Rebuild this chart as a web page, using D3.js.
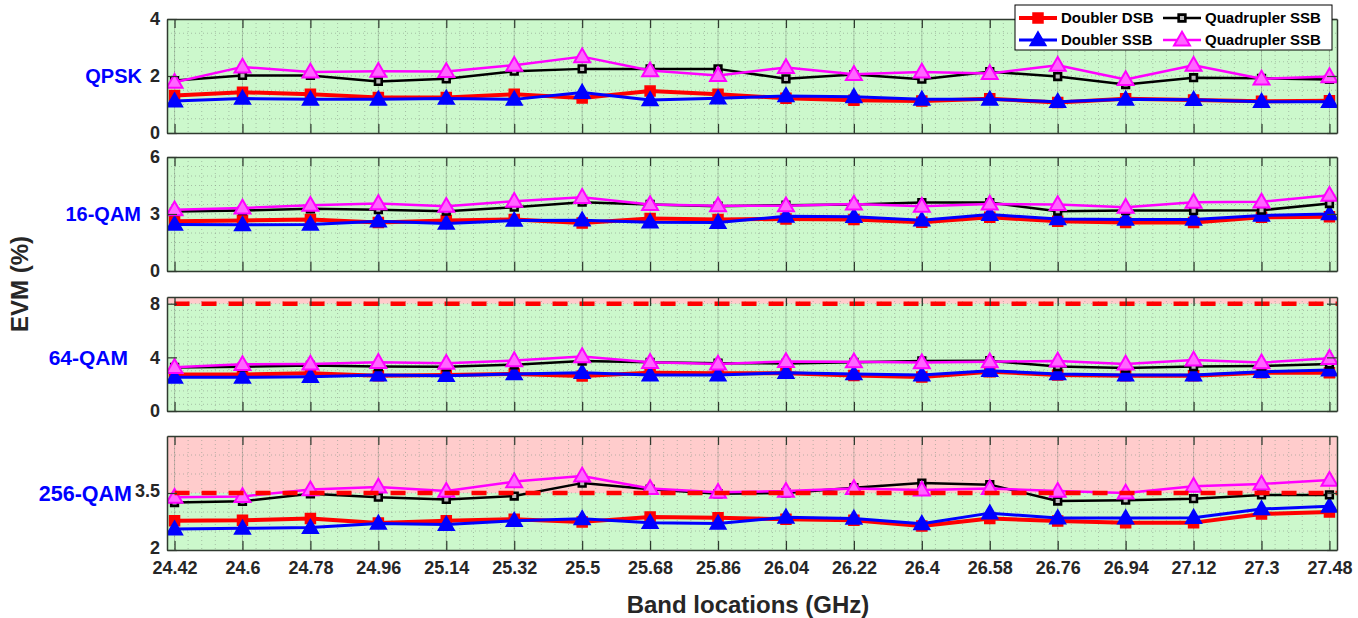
<!DOCTYPE html>
<html>
<head>
<meta charset="utf-8">
<script src="https://cdn.jsdelivr.net/npm/d3@7"></script>
<style>
  body { margin: 0; background: #fff; }
  text { font-family: "Liberation Sans", Arial, sans-serif; font-weight: bold; }
</style>
</head>
<body>
<svg id="chart" width="1358" height="618"></svg>
<script>
// band locations (GHz)
const freqs = [24.42, 24.6, 24.78, 24.96, 25.14, 25.32, 25.5, 25.68, 25.86,
               26.04, 26.22, 26.4, 26.58, 26.76, 26.94, 27.12, 27.3, 27.48];

const formats = ['QPSK', '16-QAM', '64-QAM', '256-QAM'];
const seriesNames = ['Doubler DSB', 'Doubler SSB', 'Quadrupler SSB', 'Quadrupler SSB'];
const yDomains = [[0, 4], [0, 6], [0, 8.5], [2, 5]];
const yTicks = [[0, 2, 4], [0, 3, 6], [0, 4, 8], [2, 3.5]];
const thresholds = [null, null, 8, 3.5];

// EVM (%) per format: [doubler DSB, doubler SSB, quad SSB (black), quad SSB (magenta)]
const qpsk = [
  [1.32, 1.43, 1.36, 1.25, 1.25, 1.36, 1.23, 1.47, 1.36, 1.22, 1.15, 1.12, 1.2, 1.07, 1.2, 1.16, 1.11, 1.13],
  [1.12, 1.21, 1.18, 1.18, 1.21, 1.18, 1.42, 1.16, 1.22, 1.3, 1.27, 1.18, 1.18, 1.1, 1.18, 1.17, 1.1, 1.1],
  [1.84, 2.02, 2.02, 1.81, 1.9, 2.17, 2.25, 2.25, 2.25, 1.9, 2.05, 1.89, 2.15, 1.98, 1.7, 1.94, 1.92, 1.88],
  [1.78, 2.32, 2.14, 2.17, 2.16, 2.38, 2.68, 2.19, 2.02, 2.3, 2.06, 2.14, 2.09, 2.38, 1.88, 2.38, 1.9, 1.98]
];
const qam16 = [
  [2.62, 2.66, 2.71, 2.55, 2.66, 2.71, 2.52, 2.76, 2.71, 2.74, 2.71, 2.57, 2.83, 2.62, 2.55, 2.55, 2.83, 2.85],
  [2.45, 2.43, 2.45, 2.62, 2.5, 2.66, 2.67, 2.57, 2.55, 2.88, 2.86, 2.67, 2.97, 2.74, 2.71, 2.71, 2.92, 3.0],
  [3.13, 3.18, 3.27, 3.23, 3.15, 3.36, 3.62, 3.5, 3.41, 3.46, 3.5, 3.6, 3.6, 3.15, 3.18, 3.18, 3.2, 3.55],
  [3.23, 3.32, 3.46, 3.55, 3.41, 3.67, 3.88, 3.5, 3.44, 3.44, 3.53, 3.41, 3.53, 3.5, 3.36, 3.62, 3.64, 3.99]
];
const qam64 = [
  [2.73, 2.73, 2.81, 2.63, 2.68, 2.76, 2.61, 2.86, 2.81, 2.81, 2.65, 2.53, 2.93, 2.68, 2.63, 2.63, 2.86, 2.86],
  [2.51, 2.51, 2.56, 2.68, 2.63, 2.76, 2.86, 2.68, 2.68, 2.86, 2.76, 2.68, 3.0, 2.76, 2.68, 2.68, 2.93, 3.05],
  [3.25, 3.3, 3.4, 3.32, 3.3, 3.45, 3.73, 3.63, 3.56, 3.55, 3.63, 3.73, 3.75, 3.31, 3.2, 3.31, 3.36, 3.5],
  [3.26, 3.48, 3.51, 3.63, 3.56, 3.76, 4.06, 3.63, 3.51, 3.7, 3.68, 3.61, 3.68, 3.73, 3.51, 3.81, 3.61, 3.93]
];
const qam256 = [
  [2.77, 2.78, 2.83, 2.71, 2.77, 2.81, 2.74, 2.87, 2.85, 2.81, 2.78, 2.63, 2.83, 2.76, 2.72, 2.72, 2.95, 3.0],
  [2.55, 2.57, 2.59, 2.7, 2.67, 2.77, 2.82, 2.72, 2.7, 2.86, 2.83, 2.69, 2.97, 2.84, 2.84, 2.85, 3.08, 3.15],
  [3.25, 3.28, 3.48, 3.39, 3.33, 3.42, 3.76, 3.6, 3.48, 3.5, 3.64, 3.76, 3.72, 3.29, 3.31, 3.35, 3.45, 3.45],
  [3.39, 3.41, 3.59, 3.66, 3.55, 3.8, 3.95, 3.62, 3.52, 3.55, 3.62, 3.58, 3.62, 3.55, 3.5, 3.68, 3.74, 3.84]
];
const panelData = [qpsk, qam16, qam64, qam256];

const styles = [
  { color: '#ff0000', width: 4, marker: 'square', size: 100, fill: '#ff0000', sw: 1.5 },
  { color: '#0000ff', width: 3, marker: 'triangle', size: 110, fill: '#0000ff', sw: 1.5 },
  { color: '#000000', width: 2.5, marker: 'square', size: 45, fill: '#bbbbbb', sw: 2.6 },
  { color: '#ff00ff', width: 2.5, marker: 'triangle', size: 110, fill: '#ff66ff', sw: 2 }
];

const svg = d3.select('#chart');
const left = 167, right = 1337;
const panelTops = [19, 157, 297, 436];
const panelH = 114;

const x = d3.scaleLinear().domain([24.4, 27.5]).range([left, right]);
const fmt = (d) => String(d);

function symbolFor(st) {
  return d3.symbol()
    .type(st.marker == 'square' ? d3.symbolSquare : d3.symbolTriangle)
    .size(st.size);
}

panelData.forEach((series, p) => {
  const top = panelTops[p];
  const bottom = top + panelH;
  const [y0, y1] = yDomains[p];
  const y = d3.scaleLinear().domain([y0, y1]).range([bottom, top]);
  const g = svg.append('g').attr('class', 'panel');

  const clipId = 'clip' + p;
  svg.append('clipPath').attr('id', clipId)
    .append('rect').attr('x', left).attr('y', top)
    .attr('width', right - left).attr('height', panelH);

  // background: green below threshold, pink above
  const th = thresholds[p];
  g.append('rect')
    .attr('x', left).attr('y', top)
    .attr('width', right - left).attr('height', panelH)
    .attr('fill', '#ccf8cc');
  if (th != null) {
    g.append('rect')
      .attr('x', left).attr('y', top)
      .attr('width', right - left).attr('height', y(th) - top)
      .attr('fill', '#ffcccc');
  }

  // minor grid
  const minorX = d3.range(24.42, 27.5, 0.036);
  g.append('g').selectAll('line').data(minorX).enter().append('line')
    .attr('x1', (d) => x(d)).attr('x2', (d) => x(d))
    .attr('y1', top).attr('y2', bottom)
    .attr('stroke', '#8a9a8a').attr('stroke-width', 1)
    .attr('stroke-dasharray', '1,3').attr('opacity', 0.6);
  const minorY = d3.range(y0 + 0.5, y1, 0.5);
  g.append('g').selectAll('line').data(minorY).enter().append('line')
    .attr('x1', left).attr('x2', right)
    .attr('y1', (d) => y(d)).attr('y2', (d) => y(d))
    .attr('stroke', '#8a9a8a').attr('stroke-width', 1)
    .attr('stroke-dasharray', '1,3').attr('opacity', 0.6);

  // major grid
  g.append('g').selectAll('line').data(freqs).enter().append('line')
    .attr('x1', (d) => x(d)).attr('x2', (d) => x(d))
    .attr('y1', top).attr('y2', bottom)
    .attr('stroke', '#6a7a6a').attr('stroke-width', 1).attr('opacity', 0.35);

  // series
  const plot = g.append('g').attr('clip-path', `url(#${clipId})`);
  series.forEach((vals, s) => {
    const st = styles[s];
    const line = d3.line().x((d, i) => x(freqs[i])).y((d) => y(d));
    plot.append('path')
      .datum(vals)
      .attr('d', line)
      .attr('fill', 'none')
      .attr('stroke', st.color)
      .attr('stroke-width', st.width)
      .attr('stroke-linejoin', 'round');
    plot.append('g').selectAll('path').data(vals).enter().append('path')
      .attr('transform', (d, i) => `translate(${x(freqs[i])},${y(d) + (st.marker == 'triangle' ? 1 : 0)})`)
      .attr('d', symbolFor(st))
      .attr('fill', st.fill)
      .attr('stroke', st.color)
      .attr('stroke-width', st.sw);
  });

  // threshold
  if (th != null) {
    g.append('line')
      .attr('x1', x(24.42)).attr('x2', right)
      .attr('y1', y(th)).attr('y2', y(th))
      .attr('stroke', '#ff0000').attr('stroke-width', 4.5)
      .attr('stroke-dasharray', '15,12');
  }

  // axes
  const axisColor = '#2f3a2f';
  const yl = g.append('g').attr('transform', `translate(${left},0)`)
    .call(d3.axisLeft(y).tickValues(yTicks[p]).tickSizeInner(-10).tickSizeOuter(0)
      .tickPadding(7).tickFormat(fmt));
  const yr = g.append('g').attr('transform', `translate(${right},0)`)
    .call(d3.axisRight(y).tickValues(yTicks[p]).tickSizeInner(-10).tickSizeOuter(0).tickFormat(''));
  const xt = g.append('g').attr('transform', `translate(0,${top})`)
    .call(d3.axisTop(x).tickValues(freqs).tickSizeInner(-9).tickSizeOuter(0).tickFormat(''));
  const xb = g.append('g').attr('transform', `translate(0,${bottom})`)
    .call(d3.axisBottom(x).tickValues(freqs).tickSizeInner(-9).tickSizeOuter(0)
      .tickPadding(p == 3 ? 11 : 0)
      .tickFormat(p == 3 ? fmt : ''));
  [yl, yr, xt, xb].forEach((a) => {
    a.select('.domain').attr('stroke', axisColor).attr('stroke-width', 1.5);
    a.selectAll('.tick line').attr('stroke', axisColor).attr('stroke-width', 1.2);
    a.selectAll('.tick text')
      .attr('fill', '#262626')
      .style('font-size', '18px')
      .style('font-weight', 'bold')
      .style('font-family', '"Liberation Sans", Arial, sans-serif');
  });
  if (p == 3) yl.selectAll('.tick text').attr('dy', '0.2em');

  // format label
  const labelRight = [142, 141, 128, 132];
  const labelSize = [20, 20, 21, 21.5];
  const labelVal = [2, 3, 4, 3.5];
  g.append('text')
    .attr('x', labelRight[p])
    .attr('y', y(labelVal[p]))
    .attr('dy', '0.35em')
    .attr('text-anchor', 'end')
    .attr('fill', '#0000ff')
    .style('font-size', labelSize[p] + 'px')
    .text(formats[p]);
});

// axis titles
svg.append('text')
  .attr('transform', 'translate(28,284) rotate(-90)')
  .attr('text-anchor', 'middle')
  .attr('fill', '#262626')
  .style('font-size', '24px')
  .text('EVM (%)');

svg.append('text')
  .attr('x', 748).attr('y', 613)
  .attr('text-anchor', 'middle')
  .attr('fill', '#262626')
  .style('font-size', '24px')
  .text('Band locations (GHz)');

// legend
const legend = svg.append('g').attr('transform', 'translate(1015,5)');
legend.append('rect')
  .attr('width', 317).attr('height', 45)
  .attr('fill', '#fff').attr('stroke', '#000').attr('stroke-width', 1);
const legendPos = [[4, 13], [4, 35], [148, 13], [148, 35]];
styles.forEach((st, s) => {
  const [lx, ly] = legendPos[s];
  const item = legend.append('g').attr('transform', `translate(${lx},${ly})`);
  item.append('line')
    .attr('x1', 0).attr('x2', 38).attr('y1', 0).attr('y2', 0)
    .attr('stroke', st.color).attr('stroke-width', st.width);
  item.append('path')
    .attr('transform', `translate(19,${st.marker == 'triangle' ? 1 : 0})`)
    .attr('d', symbolFor(st))
    .attr('fill', st.fill)
    .attr('stroke', st.color)
    .attr('stroke-width', st.sw);
  item.append('text')
    .attr('x', 42).attr('y', 0).attr('dy', '0.36em')
    .attr('fill', '#000')
    .style('font-size', '15px')
    .text(seriesNames[s]);
});
</script>
</body>
</html>
